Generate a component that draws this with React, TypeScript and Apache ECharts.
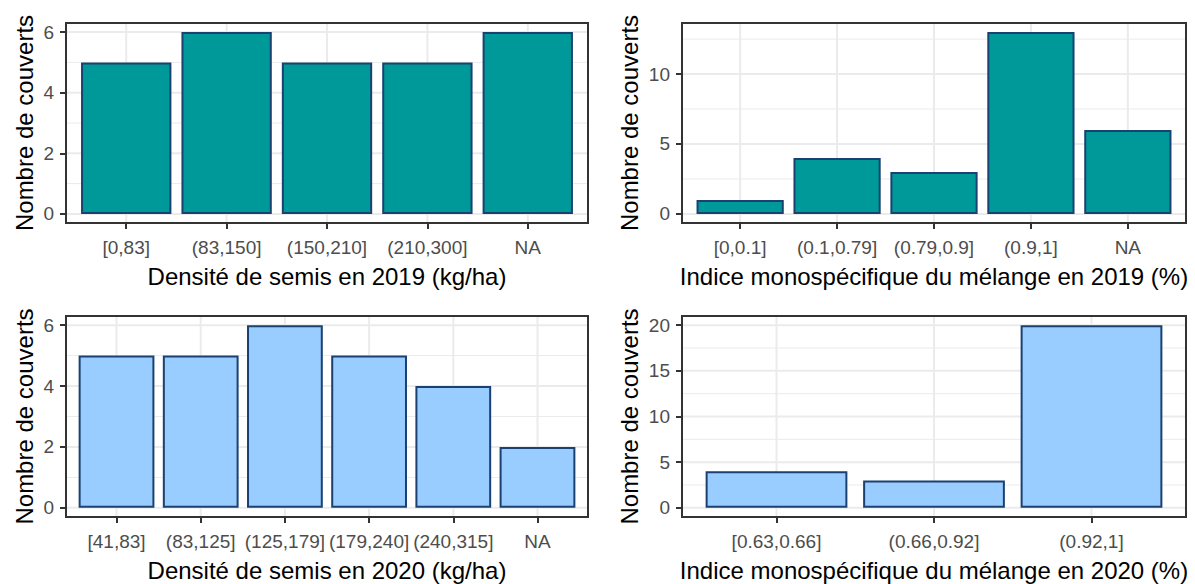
import React, { useEffect, useRef } from "react";
import * as echarts from "echarts";

// ---------- data ----------
const densite2019Cats = ["[0,83]", "(83,150]", "(150,210]", "(210,300]", "NA"];
const densite2019Counts = [5, 6, 5, 5, 6];
const densite2019YTicks = [0, 2, 4, 6];

const indice2019Cats = ["[0,0.1]", "(0.1,0.79]", "(0.79,0.9]", "(0.9,1]", "NA"];
const indice2019Counts = [1, 4, 3, 13, 6];
const indice2019YTicks = [0, 5, 10];

const densite2020Cats = ["[41,83]", "(83,125]", "(125,179]", "(179,240]", "(240,315]", "NA"];
const densite2020Counts = [5, 5, 6, 5, 4, 2];
const densite2020YTicks = [0, 2, 4, 6];

const indice2020Cats = ["[0.63,0.66]", "(0.66,0.92]", "(0.92,1]"];
const indice2020Counts = [4, 3, 20];
const indice2020YTicks = [0, 5, 10, 15, 20];

const xTitles = [
  "Densité de semis en 2019 (kg/ha)",
  "Indice monospécifique du mélange en 2019 (%)",
  "Densité de semis en 2020 (kg/ha)",
  "Indice monospécifique du mélange en 2020 (%)",
];
const yTitle = "Nombre de couverts";

// ---------- styles ----------
const FONT = '"Liberation Sans", Arial, Helvetica, sans-serif';
const TEAL = "#009999";
const LIGHT = "#99CCFF";
const BAR_BORDER = "#1a4170";
const GRID_COL = "#ebebeb";
const DARK = "#333333";
const TICK_TXT = "#4d4d4d";

const grids = [
  { left: 66, top: 23, width: 522, height: 200 },
  { left: 682, top: 23, width: 504, height: 200 },
  { left: 66, top: 316, width: 522, height: 201 },
  { left: 682, top: 316, width: 504, height: 201 },
];
const yNameGaps = [30, 41, 30, 41];

const panels = [
  { cats: densite2019Cats, vals: densite2019Counts, yTicks: densite2019YTicks, fill: TEAL },
  { cats: indice2019Cats, vals: indice2019Counts, yTicks: indice2019YTicks, fill: TEAL },
  { cats: densite2020Cats, vals: densite2020Counts, yTicks: densite2020YTicks, fill: LIGHT },
  { cats: indice2020Cats, vals: indice2020Counts, yTicks: indice2020YTicks, fill: LIGHT },
];

function gridRenderItem(params: any, api: any) {
  const cs = params.coordSys;
  const kind = api.value(2);
  const w = api.value(3);
  const p = api.coord([api.value(0), api.value(1)]);
  let shape;
  if (kind === 0) {
    shape = { x1: p[0], y1: cs.y + 1, x2: p[0], y2: cs.y + cs.height - 1 };
  } else {
    shape = { x1: cs.x + 1, y1: p[1], x2: cs.x + cs.width - 1, y2: p[1] };
  }
  return { type: "line", shape, style: { stroke: GRID_COL, lineWidth: w }, silent: true };
}

function buildOption() {
  const grid: any[] = [];
  const xAxis: any[] = [];
  const yAxis: any[] = [];
  const series: any[] = [];

  panels.forEach((pnl, i) => {
    const g = grids[i];
    const n = pnl.cats.length;
    const positions = pnl.cats.map((_, k) => k + 1);
    const yMax = Math.max(...pnl.vals);
    const yTicks = pnl.yTicks;
    const minor: number[] = [];
    for (let k = 0; k < yTicks.length - 1; k++) minor.push((yTicks[k] + yTicks[k + 1]) / 2);
    const step = yTicks[1] - yTicks[0];
    if (yTicks[yTicks.length - 1] + step / 2 <= yMax * 1.05) minor.push(yTicks[yTicks.length - 1] + step / 2);

    grid.push({
      ...g,
      show: true,
      borderColor: DARK,
      borderWidth: 2,
      backgroundColor: "#ffffff",
      containLabel: false,
    });

    xAxis.push({
      type: "value",
      gridIndex: i,
      min: 0.4,
      max: n + 0.6,
      axisLine: { show: false, onZero: false },
      axisTick: {
        show: true,
        customValues: positions,
        length: 6,
        lineStyle: { color: DARK, width: 2 },
      },
      axisLabel: {
        show: true,
        customValues: positions,
        formatter: (v: number) => pnl.cats[Math.round(v) - 1] ?? "",
        color: TICK_TXT,
        fontSize: 19,
        fontFamily: FONT,
        margin: 15,
      },
      splitLine: { show: false },
      minorSplitLine: { show: false },
      name: xTitles[i],
      nameLocation: "middle",
      nameGap: 41.5,
      nameTextStyle: { color: "#000000", fontSize: 24, fontFamily: FONT },
    });

    yAxis.push({
      type: "value",
      gridIndex: i,
      min: -0.05 * yMax,
      max: 1.05 * yMax,
      axisLine: { show: false, onZero: false },
      axisTick: {
        show: true,
        customValues: yTicks,
        length: 6,
        lineStyle: { color: DARK, width: 2 },
      },
      axisLabel: {
        show: true,
        customValues: yTicks,
        color: TICK_TXT,
        fontSize: 19,
        fontFamily: FONT,
        margin: 12,
      },
      splitLine: { show: false },
      minorSplitLine: { show: false },
      name: yTitle,
      nameLocation: "middle",
      nameGap: yNameGaps[i],
      nameTextStyle: { color: "#000000", fontSize: 24, fontFamily: FONT },
    });

    const gridData: number[][] = [];
    positions.forEach((x) => gridData.push([x, 0, 0, 2]));
    yTicks.forEach((v) => gridData.push([1, v, 1, 2]));
    minor.forEach((v) => gridData.push([1, v, 1, 1]));

    series.push({
      type: "custom",
      xAxisIndex: i,
      yAxisIndex: i,
      z: 1,
      silent: true,
      clip: false,
      renderItem: gridRenderItem,
      encode: { x: 0, y: 1 },
      data: gridData,
    });

    series.push({
      type: "bar",
      xAxisIndex: i,
      yAxisIndex: i,
      z: 2,
      silent: true,
      barWidth: (0.9 * g.width) / (n + 0.2),
      data: pnl.vals.map((v, k) => [k + 1, v]),
      itemStyle: { color: pnl.fill, borderColor: BAR_BORDER, borderWidth: 2 },
    });
  });

  return {
    animation: false,
    backgroundColor: "#ffffff",
    textStyle: { fontFamily: FONT },
    grid,
    xAxis,
    yAxis,
    series,
  };
}

export default function App() {
  const ref = useRef<HTMLDivElement>(null);
  useEffect(() => {
    const chart = echarts.init(ref.current!, null, { renderer: "svg" });
    chart.setOption(buildOption() as any);
    return () => chart.dispose();
  }, []);
  return (
    <div
      ref={ref}
      style={{ position: "absolute", left: 0, top: 0, width: 1195, height: 584, background: "#fff" }}
    />
  );
}
